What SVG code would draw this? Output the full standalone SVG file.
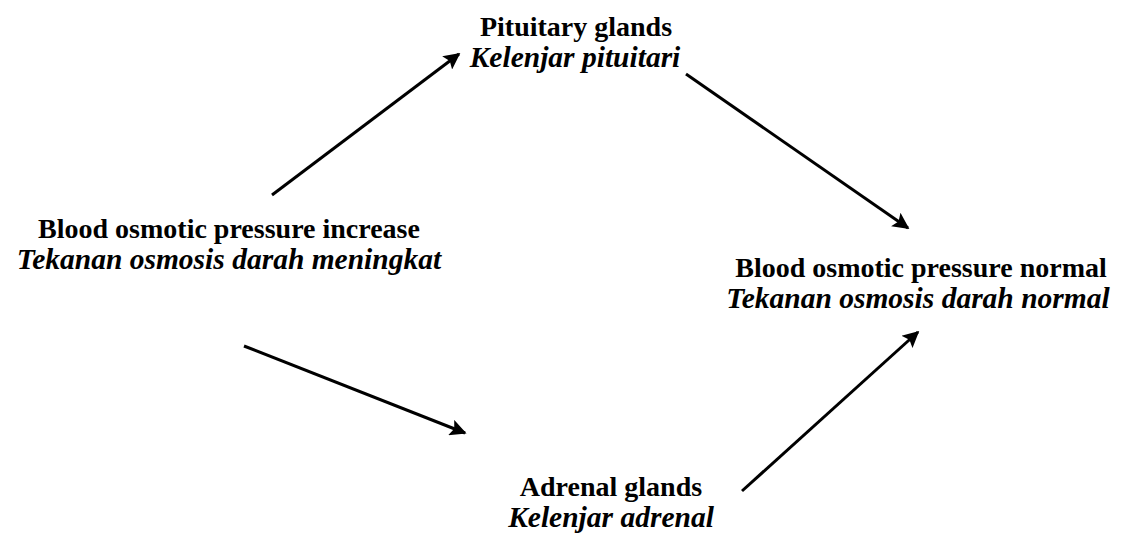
<svg xmlns="http://www.w3.org/2000/svg" width="1121" height="540" viewBox="0 0 1121 540">
  <style>
    .en { font-family: "Liberation Serif", "Times New Roman", serif; font-weight: bold; font-size: 28px; fill: #000; text-anchor: middle; }
    .ms { font-family: "Liberation Serif", "Times New Roman", serif; font-weight: bold; font-style: italic; font-size: 29.5px; fill: #000; text-anchor: middle; }
    .link { stroke: #000; stroke-width: 3; fill: none; marker-end: url(#head); }
  </style>
  <defs>
    <marker id="head" viewBox="0 0 10 10" refX="9" refY="5" markerWidth="6" markerHeight="5.5" orient="auto" markerUnits="strokeWidth">
      <path d="M0,0 L10,5 L0,10 L2,5 Z" fill="#000"/>
    </marker>
  </defs>
  <rect width="1121" height="540" fill="#fff"/>

  <!-- arrows between the four states -->
  <g id="connectors">
    <line class="link" x1="272" y1="195" x2="459" y2="54"/>
    <line class="link" x1="686" y1="74" x2="908" y2="228"/>
    <line class="link" x1="244" y1="346" x2="465" y2="433"/>
    <line class="link" x1="742" y1="491" x2="918" y2="332"/>
  </g>

  <g id="pituitary">
    <text class="en" x="576" y="36">Pituitary  glands</text>
    <text class="ms" x="575" y="67">Kelenjar pituitari</text>
  </g>

  <g id="increase">
    <text class="en" x="229" y="238">Blood osmotic pressure increase</text>
    <text class="ms" x="229" y="269">Tekanan osmosis darah meningkat</text>
  </g>

  <g id="normal">
    <text class="en" x="921" y="277">Blood osmotic pressure normal</text>
    <text class="ms" x="918" y="308">Tekanan osmosis darah normal</text>
  </g>

  <g id="adrenal">
    <text class="en" x="611" y="496">Adrenal glands</text>
    <text class="ms" x="611" y="527">Kelenjar adrenal</text>
  </g>
</svg>
